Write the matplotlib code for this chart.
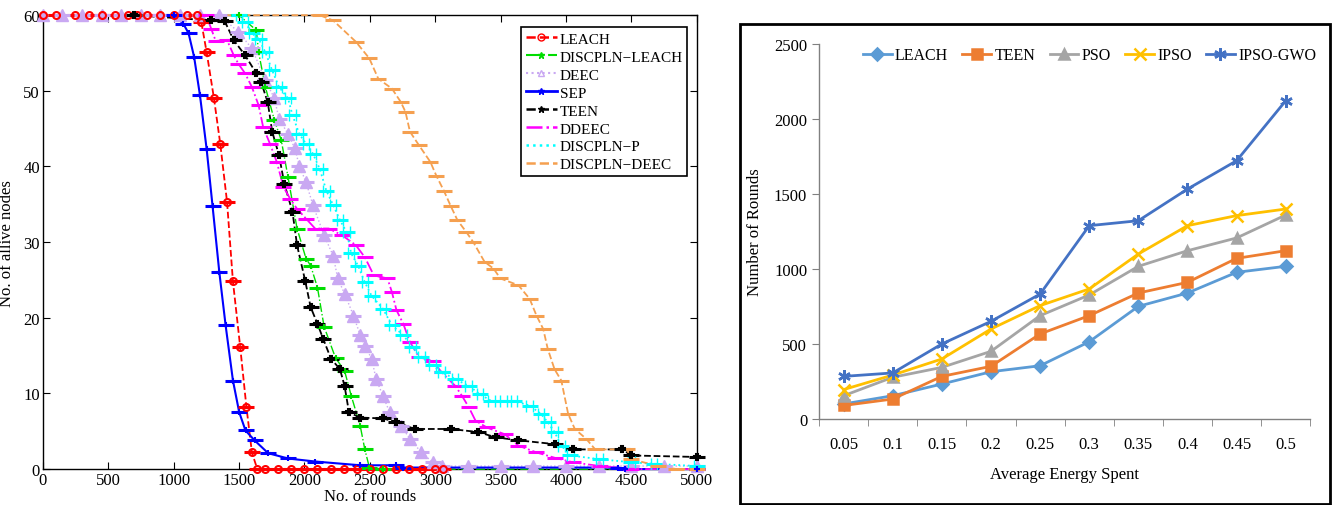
import numpy as np
import matplotlib
matplotlib.use("Agg")
import matplotlib.pyplot as plt
from matplotlib.patches import Rectangle

plt.rcParams['font.family'] = ['Liberation Serif', 'DejaVu Serif']

# ---------- left: alive nodes vs rounds ----------
leach_x = [0, 100, 250, 350, 450, 550, 650, 720, 800, 900, 1000, 1100, 1180, 1212, 1253, 1309, 1357,
           1409, 1454, 1509, 1557, 1599, 1640, 1700, 1800, 1900, 2000, 2100, 2200, 2300, 2400, 2500,
           2600, 2700, 2800, 2900, 3000, 3060]
leach_y = [60, 60, 60, 60, 60, 60, 60, 60, 60, 60, 60, 60, 60, 59.1, 55.1, 49.0, 43.0,
           35.3, 24.8, 16.2, 8.2, 2.2, 0, 0, 0, 0, 0, 0, 0, 0, 0, 0,
           0, 0, 0, 0, 0, 0]

dleach_x = [0, 1500, 1633, 1650, 1702, 1771, 1823, 1875, 1944, 2013, 2048, 2100, 2151, 2238, 2307,
            2358, 2427, 2462, 2497, 2600, 5000]
dleach_y = [60, 60, 58.0, 55.1, 50.5, 46.1, 43.5, 38.6, 31.8, 27.8, 26.9, 24.0, 18.8, 14.7, 13.0,
            9.7, 5.7, 2.6, 0.2, 0, 0]

deec_x = [0, 150, 300, 450, 600, 750, 900, 1050, 1200, 1350, 1495, 1599, 1702, 1771, 1806, 1875, 1927,
          1961, 2013, 2065, 2151, 2220, 2255, 2307, 2375, 2427, 2462, 2514, 2548, 2600, 2652,
          2738, 2807, 2894, 2980, 3049, 3250, 3500, 3750, 4000, 4250, 4500, 4750, 5000]
deec_y = [60, 60, 60, 60, 60, 60, 60, 60, 60, 60, 57.8, 55.6, 51.4, 49.0, 46.3, 44.3, 42.4,
          40.1, 37.9, 34.9, 30.9, 28.2, 25.2, 23.2, 20.3, 17.7, 16.3, 14.6, 11.9, 9.7, 7.5,
          5.7, 4.0, 2.2, 0.9, 0.4, 0.4, 0.4, 0.4, 0.4, 0.4, 0.4, 0.4, 0.4]

sep_x = [0, 1000, 1074, 1115, 1157, 1202, 1253, 1298, 1350, 1398, 1454, 1502, 1550, 1619, 1723,
         1875, 2082, 2427, 2700, 2750, 4400, 4450, 5000]
sep_y = [60, 60, 58.9, 57.6, 54.5, 49.4, 42.3, 34.8, 26.0, 19.0, 11.7, 7.5, 5.1, 3.8, 2.1,
         1.4, 1.0, 0.5, 0.5, 0.2, 0.2, 0, 0]

teen_x = [0, 700, 1288, 1391, 1460, 1547, 1633, 1668, 1720, 1754, 1806, 1847, 1909, 1944, 2006,
          2048, 2100, 2144, 2203, 2272, 2307, 2341, 2427, 2600, 2704, 2842, 3118, 3325, 3463,
          3636, 3912, 4050, 4430, 4499, 5000]
teen_y = [60, 60, 59.3, 59.2, 56.7, 54.7, 52.3, 51.2, 48.5, 44.6, 41.5, 37.7, 34.0, 29.6, 24.9,
          21.4, 19.2, 17.2, 14.6, 13.2, 11.0, 7.5, 6.8, 6.7, 6.2, 5.3, 5.3, 4.9, 4.2,
          3.8, 3.3, 2.6, 2.6, 1.8, 1.6]

ddeec_x = [0, 1250, 1288, 1322, 1409, 1460, 1495, 1547, 1599, 1650, 1685, 1737, 1789, 1840, 1892,
           1944, 2013, 2082, 2186, 2289, 2393, 2462, 2531, 2635, 2669, 2704, 2756, 2807, 2876,
           2980, 3049, 3153, 3204, 3256, 3308, 3394, 3532, 3636, 3774, 3912, 4050, 4257, 4499, 5000]
ddeec_y = [60, 60, 58.2, 56.6, 56.7, 54.7, 53.6, 52.3, 50.5, 48.1, 45.2, 43.0, 40.6, 37.3, 35.7,
           34.4, 33.1, 31.8, 31.8, 30.9, 29.6, 28.0, 25.6, 25.2, 23.4, 21.0, 19.2, 16.8, 14.8,
           14.3, 12.8, 11.0, 9.7, 8.2, 6.4, 5.5, 4.6, 3.1, 2.2, 1.5, 0.9, 0.4, 0, 0]

dp_x = [0, 1500, 1547, 1599, 1650, 1702, 1754, 1806, 1875, 1909, 1961, 2013, 2065, 2117, 2168,
        2220, 2272, 2324, 2358, 2410, 2462, 2514, 2600, 2669, 2756, 2825, 2894, 2980, 3049,
        3153, 3256, 3342, 3429, 3520, 3601, 3722, 3808, 3860, 3912, 3964, 4033, 4257, 4499,
        4672, 5000]
dp_y = [60, 60, 59.1, 57.6, 56.9, 55.1, 52.7, 50.5, 49.0, 46.8, 44.3, 43.0, 41.7, 39.7, 36.8,
        34.9, 32.9, 31.3, 28.5, 26.9, 24.7, 22.9, 21.2, 19.0, 17.7, 16.1, 14.8, 13.7, 12.8,
        11.9, 11.0, 9.9, 9.0, 9.0, 9.0, 8.4, 7.3, 6.2, 4.9, 3.1, 1.8, 1.3, 0.9,
        0.7, 0.4]

dd_x = [0, 2117, 2220, 2393, 2496, 2565, 2669, 2738, 2773, 2807, 2876, 2963, 3008, 3066, 3118,
        3170, 3239, 3291, 3377, 3446, 3498, 3636, 3722, 3774, 3826, 3860, 3912, 3964, 4016,
        4067, 4154, 4223, 4465, 4499, 4706, 4844, 5000]
dd_y = [60, 60, 59.3, 56.5, 54.3, 51.6, 50.3, 48.5, 47.2, 44.6, 42.8, 40.6, 38.8, 36.8, 34.8,
        32.9, 31.3, 30.0, 27.4, 26.5, 25.2, 24.3, 22.5, 20.3, 18.5, 15.9, 13.2, 11.7, 7.3,
        5.3, 4.0, 2.6, 2.6, 1.3, 0.4, 0, 0]

left_names = ["LEACH", "DISCPLN\u2212LEACH", "DEEC", "SEP", "TEEN", "DDEEC", "DISCPLN\u2212P",
              "DISCPLN\u2212DEEC"]

# ---------- right: rounds vs energy ----------
energy = ["0.05", "0.1", "0.15", "0.2", "0.25", "0.3", "0.35", "0.4", "0.45", "0.5"]
r_leach = [100, 155, 233, 315, 355, 515, 751, 840, 978, 1018]
r_teen = [90, 133, 284, 351, 567, 689, 840, 911, 1071, 1122]
r_pso = [155, 278, 344, 451, 689, 827, 1018, 1122, 1207, 1360]
r_ipso = [196, 293, 400, 600, 756, 867, 1100, 1289, 1356, 1400]
r_gwo = [284, 307, 500, 651, 833, 1289, 1322, 1533, 1722, 2122]
right_names = ["LEACH", "TEEN", "PSO", "IPSO", "IPSO-GWO"]

fig = plt.figure(figsize=(13.35, 5.06), dpi=100)

# left panel
ax = fig.add_axes([0.032, 0.071, 0.490, 0.897])
series = [
    (leach_x, leach_y, "#FF0000", "--", "o", 1.3),
    (dleach_x, dleach_y, "#00DD00", "-.", "+", 1.0),
    (deec_x, deec_y, "#C9A8F2", ":", "^", 1.0),
    (sep_x, sep_y, "#0000FF", "-", "+", 1.5),
    (teen_x, teen_y, "#000000", "--", "P", 1.3),
    (ddeec_x, ddeec_y, "#FF00FF", "-.", "_", 1.3),
    (dp_x, dp_y, "#00FFFF", ":", "|", 1.3),
    (dd_x, dd_y, "#F5A050", "--", "_", 1.3),
]
handles = []
for (xs, ys, c, ls, mk, lw), name in zip(series, left_names):
    xs = np.array(xs)
    ys = np.array(ys)
    ax.plot(xs, ys, color=c, ls=ls, lw=lw, zorder=3, clip_on=False)
    # horizontal bars at each step
    ax.plot(xs[1:], ys[1:], ls="none", marker="_", ms=11, mew=2.2, color=c, zorder=4, clip_on=False)
    if mk == "o":
        ax.plot(xs, ys, ls="none", marker="o", ms=5, mfc="none", mew=1.5, color=c, zorder=5, clip_on=False)
    elif mk == "^":
        ax.plot(xs, ys, ls="none", marker="^", ms=8, color=c, zorder=4, clip_on=False)
    elif mk == "|":
        ax.errorbar(xs[1:], ys[1:], xerr=25, fmt="none", ecolor=c, capsize=4, elinewidth=1.5, zorder=4)
    elif mk != "_":
        ax.plot(xs[1:], ys[1:], ls="none", marker=mk, ms=5, mew=1.5, color=c, zorder=5, clip_on=False)
    h, = ax.plot([], [], color=c, ls=ls, lw=lw + 0.5,
                 marker={"o": "o", "+": "*", "^": "^", "P": "*", "_": "", "|": ""}[mk],
                 ms=5, mfc="none" if mk in ("o", "^") else c)
    handles.append(h)

ax.set_xlim(0, 5000)
ax.set_ylim(0, 60)
ax.set_xticks(np.arange(0, 5001, 500))
ax.set_yticks(np.arange(0, 61, 10))
ax.tick_params(direction="in", top=True, right=True, labelsize=12, length=5, pad=2)
for s in ax.spines.values():
    s.set_linewidth(1.0)
ax.set_xlabel("No. of rounds", fontsize=12, labelpad=0)
ax.set_ylabel("No. of allive nodes", fontsize=12, labelpad=6)
leg = ax.legend(handles, left_names, loc="upper right", bbox_to_anchor=(0.997, 0.99), fontsize=11,
                handlelength=2.0, handletextpad=0.2, labelspacing=0.28, borderpad=0.3,
                fancybox=False, framealpha=1, edgecolor="black")
leg.get_frame().set_linewidth(1.2)

# right panel frame
fig.patches.append(Rectangle((740 / 1335, 1 - 505 / 506), 590 / 1335, 480 / 506,
                             transform=fig.transFigure, fill=False, ec="black", lw=2))

ax2 = fig.add_axes([0.6135, 0.170, 0.368, 0.741])
idx = np.arange(len(energy))
styles = [
    (r_leach, "#5B9BD5", "D", 6),
    (r_teen, "#ED7D31", "s", 7),
    (r_pso, "#A5A5A5", "^", 7),
    (r_ipso, "#FFC000", "x", 8),
    (r_gwo, "#4472C4", (6, 2, 0), 9),
]
for (vals, c, mk, ms), name in zip(styles, right_names):
    ax2.plot(idx, vals, color=c, lw=2, marker=mk, ms=ms, mew=1.8, label=name)

ax2.set_xlim(-0.5, 9.5)
ax2.set_ylim(0, 2500)
ax2.set_yticks(np.arange(0, 2501, 500))
ax2.set_xticks(idx)
ax2.set_xticklabels(energy)
ax2.set_xticks(np.arange(-0.5, 9.6, 1), minor=True)
ax2.tick_params(axis="x", which="major", length=0, labelsize=12, pad=12)
ax2.tick_params(axis="x", which="minor", length=5, direction="out", color="#808080")
ax2.tick_params(axis="y", length=5, direction="out", color="#808080", labelsize=12)
for k in ("top", "right"):
    ax2.spines[k].set_visible(False)
for k in ("left", "bottom"):
    ax2.spines[k].set_color("#808080")
    ax2.spines[k].set_linewidth(1.0)
ax2.set_xlabel("Average Energy Spent", fontsize=12, labelpad=10)
ax2.set_ylabel("Number of Rounds", fontsize=12, labelpad=8)
ax2.legend(loc="upper left", bbox_to_anchor=(0.06, 1.03), ncol=5, frameon=False, fontsize=11.5,
           handlelength=1.8, handletextpad=0.2, columnspacing=0.9)

fig.savefig("out.png", dpi=100)
